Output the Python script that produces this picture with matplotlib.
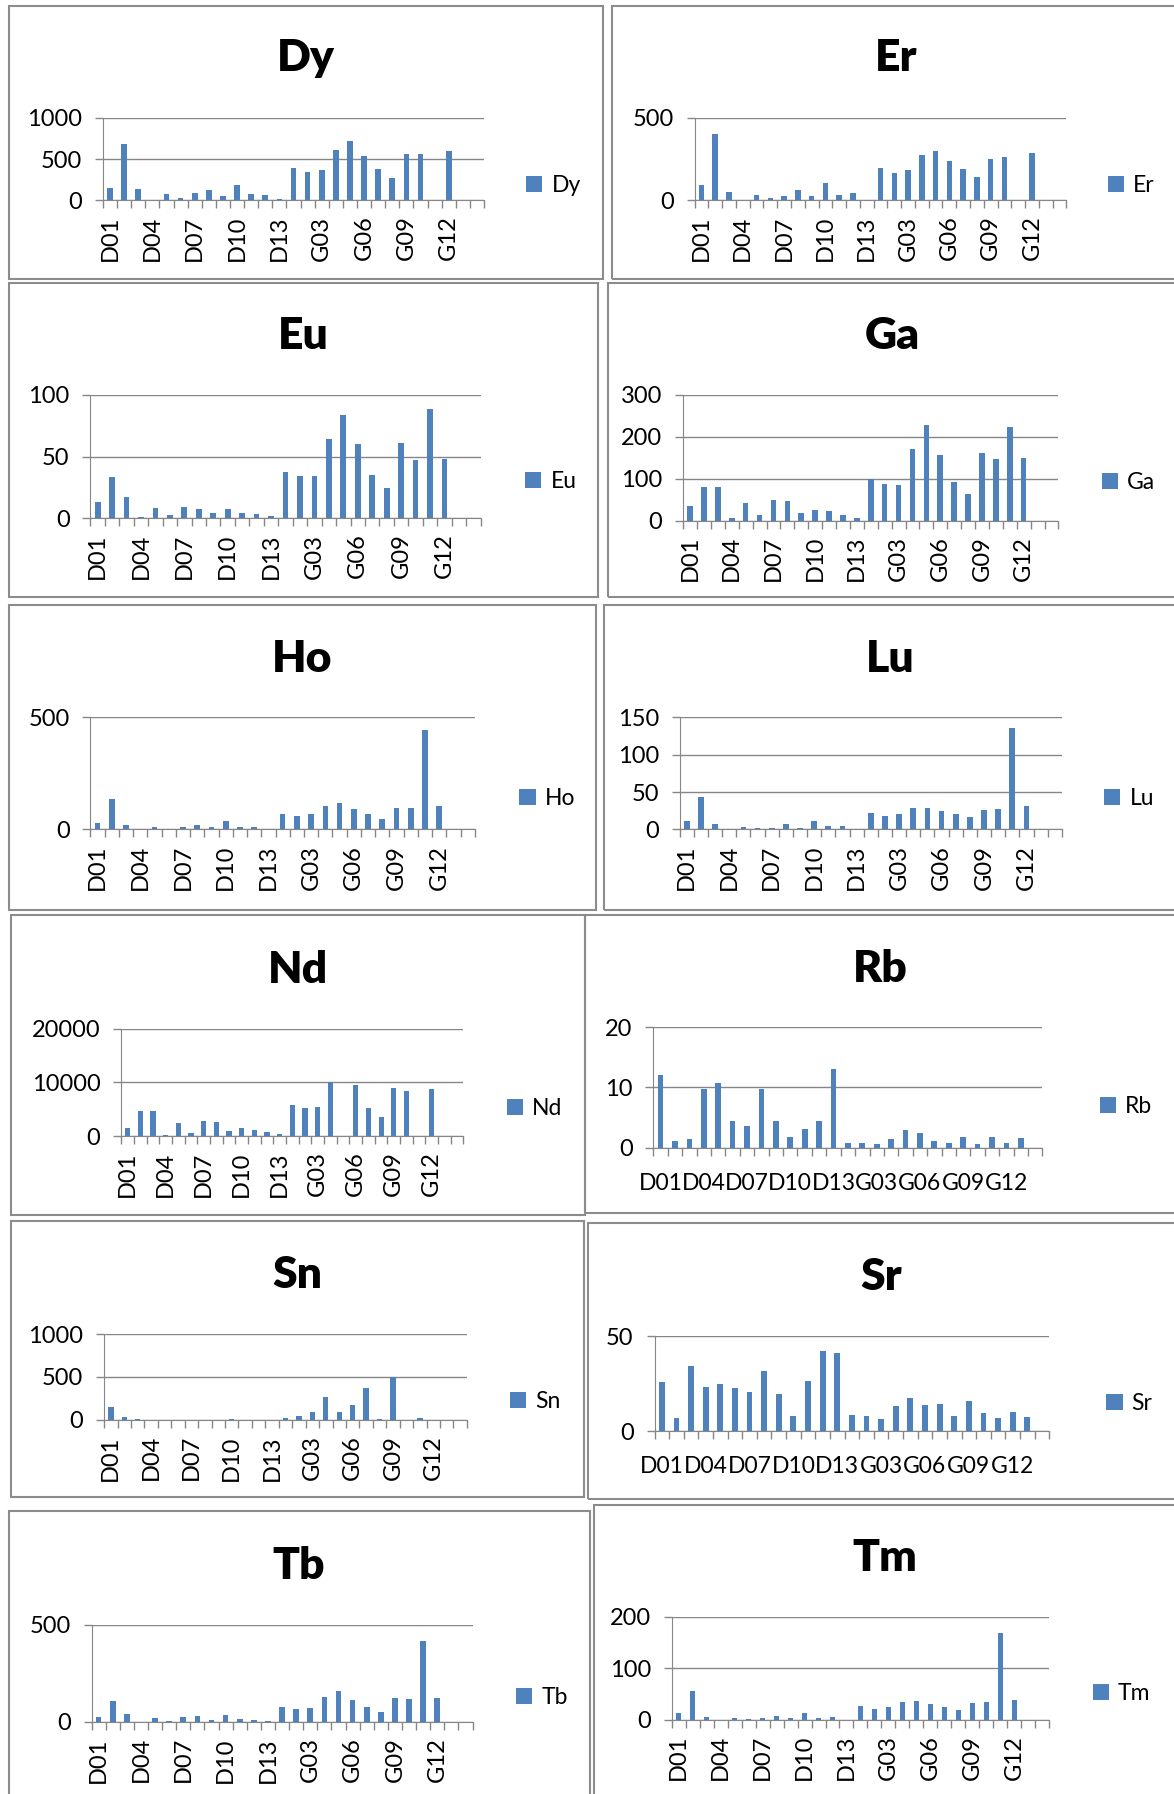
import matplotlib
matplotlib.use('Agg')
import matplotlib.pyplot as plt
from matplotlib.patches import Rectangle
import numpy as np

plt.rcParams['font.family'] = ['Lato', 'DejaVu Sans']

samples = ['D01', 'D02', 'D03', 'D04', 'D05', 'D06', 'D07', 'D08', 'D09',
           'D10', 'D11', 'D12', 'D13',
           'G01', 'G02', 'G03', 'G04', 'G05', 'G06', 'G07', 'G08', 'G09',
           'G10', 'G11', 'G12', 'G13', 'G14']

dy = [153, 687, 133, 8, 76, 24, 88, 128, 56, 189, 76, 68, 12,
      394, 337, 369, 610, 719, 542, 382, 269, 562, 566, 0, 602, 0, 0]
er = [92, 402, 50, 4, 30, 12, 28, 60, 26, 102, 34, 42, 4,
      196, 164, 186, 272, 296, 240, 188, 140, 250, 260, 0, 288, 0, 0]
eu = [13.5, 33.7, 17, 1.3, 8.4, 2.4, 9.2, 7.8, 4, 7.5, 4.6, 3.2, 1.6,
      37.7, 34.2, 34.5, 63.9, 83.8, 59.8, 34.8, 24.8, 60.6, 46.9, 88.1, 48, 0, 0]
ga = [34, 80, 79, 6, 43, 13, 50, 46, 18, 26, 23, 14, 6,
      98, 87, 86, 171, 227, 157, 92, 64, 161, 147, 222, 149, 0, 0]
ho = [30, 137, 18, 1, 9, 3, 9, 21, 9, 36, 12, 13, 1,
      70, 59, 67, 104, 117, 92, 67, 49, 95, 98, 445, 105, 0, 0]
lu = [11, 44, 7, 1, 3.5, 2, 2.5, 7, 2.5, 11.5, 4.5, 4.5, 0.3,
      21.6, 17.6, 20.7, 28.7, 29.1, 25.1, 20.7, 16.8, 25.6, 27.8, 135.8, 31.3, 1, 0]
nd = [1540, 4630, 4690, 120, 2470, 617, 2840, 2590, 990, 1540, 1170, 800, 370,
      5860, 5180, 5430, 10000, 0, 9440, 5180, 3580, 9010, 8330, 0, 8700, 0, 0]
rb = [12.0, 1.06, 1.39, 9.67, 10.7, 4.44, 3.56, 9.67, 4.44, 1.83, 3.11, 4.44, 13.0,
      0.83, 0.78, 0.67, 1.5, 3.0, 2.44, 1.06, 0.83, 1.72, 0.67, 1.72, 0.78, 1.67, 0]
sn = [148, 31, 8, 2, 0, 3, 0, 3, 0, 12, 0, 0, 0,
      23, 47, 86, 268, 93, 171, 373, 8, 494, 0, 19, 0, 0, 0]
sr = [26.0, 7.1, 34.3, 23.5, 24.7, 22.8, 20.7, 32.0, 19.8, 8.0, 26.5, 42.4, 41.2,
      8.5, 8.3, 6.7, 13.3, 17.3, 13.8, 14.5, 7.8, 15.9, 9.5, 7.2, 10.4, 7.6, 0]
tb = [26, 108, 39, 0, 19, 5, 26, 29, 12, 34, 15, 12, 3,
      77, 68, 72, 128, 159, 115, 75, 50, 122, 116, 418, 123, 0, 0]
tm = [12, 56, 6, 0, 3, 0.5, 2.6, 7.7, 2.6, 13.5, 3.9, 5.8, 0,
      25.7, 20.6, 25, 34.7, 36.7, 30.2, 25, 19.3, 31.5, 34, 168, 37.3, 0, 0]

BLUE = '#4F81BD'
GREY = '#868686'
W, H = 1026.0, 1568.0   # layout measured on the reduced picture

def fx(x):
    return x / W

def fy(y):
    return 1 - y / H

# name, values, y ticks, box (x0,y0,x1,y1), plot (L,R,T,B), title xy, legend xy, rotated labels
panels = [
    ('Dy', dy, [0, 500, 1000], (8, 5, 527, 244), (90, 423, 103, 175), (267, 51), (460, 162), True),
    ('Er', er, [0, 500], (535, 5, 1030, 244), (607, 932, 103, 175), (783, 51), (968, 162), True),
    ('Eu', eu, [0, 50, 100], (8, 247, 523, 522), (79, 420, 345, 453), (265, 294), (459, 421), True),
    ('Ga', ga, [0, 100, 200, 300], (531, 247, 1030, 522), (597, 925, 345, 455), (780, 294), (963, 422), True),
    ('Ho', ho, [0, 500], (8, 529, 521, 795), (79, 415, 627, 725), (264, 576), (454, 698), True),
    ('Lu', lu, [0, 50, 100, 150], (528, 529, 1030, 795), (594, 928, 627, 725), (778, 576), (965, 698), True),
    ('Nd', nd, [0, 10000, 20000], (10, 800, 511, 1062), (106, 405, 899, 993), (260, 848), (443, 969), True),
    ('Rb', rb, [0, 10, 20], (511, 800, 1030, 1060), (571, 911, 898, 1003), (769, 847), (961, 967), False),
    ('Sn', sn, [0, 500, 1000], (10, 1067, 510, 1308), (91, 408, 1166, 1241), (260, 1114), (446, 1225), True),
    ('Sr', sr, [0, 50], (514, 1069, 1030, 1310), (572, 917, 1168, 1251), (770, 1116), (967, 1227), False),
    ('Tb', tb, [0, 500], (8, 1321, 516, 1575), (80, 413, 1420, 1505), (261, 1369), (451, 1484), True),
    ('Tm', tm, [0, 100, 200], (519, 1315, 1030, 1575), (587, 917, 1413, 1503), (773, 1362), (955, 1480), True),
]

fig = plt.figure(figsize=(11.74, 17.94), dpi=100)

for name, vals, yt, box, area, tpos, lpos, rot in panels:
    x0, y0, x1, y1 = box
    fig.patches.append(Rectangle((fx(x0), fy(y1)), fx(x1) - fx(x0), fy(y0) - fy(y1),
                                 transform=fig.transFigure, fill=False,
                                 ec='#8c8c8c', lw=1.5))
    L, R, T, B = area
    ax = fig.add_axes([fx(L), fy(B), fx(R) - fx(L), fy(T) - fy(B)])
    x = np.arange(len(samples))
    ax.bar(x, vals, width=0.4, color=BLUE, label=name, zorder=3)
    ax.set_xlim(-0.5, len(samples) - 0.5)
    ax.set_ylim(yt[0], yt[-1])
    ax.set_yticks(yt)
    ax.set_xticks(x[::3])
    if rot:
        ax.set_xticklabels(samples[::3], rotation=90, fontsize=17)
        ax.tick_params(axis='x', which='major', length=0, pad=11)
    else:
        ax.set_xticklabels(samples[::3], fontsize=16.5)
        ax.tick_params(axis='x', which='major', length=0, pad=18)
    ax.set_xticks(np.arange(len(samples) + 1) - 0.5, minor=True)
    ax.tick_params(axis='x', which='minor', length=6, color=GREY, width=1)
    ax.tick_params(axis='y', length=6, color=GREY, width=1, pad=9, labelsize=17)
    ax.grid(axis='y', color=GREY, lw=1)
    ax.set_axisbelow(True)
    for s in ['top', 'right']:
        ax.spines[s].set_visible(False)
    for s in ['left', 'bottom']:
        ax.spines[s].set_color(GREY)
    fig.text(fx(tpos[0]), fy(tpos[1]), name, ha='center', va='center',
             fontsize=32, fontweight='heavy')
    ax.legend(loc='center left', bbox_to_anchor=(fx(lpos[0]), fy(lpos[1])),
              bbox_transform=fig.transFigure, frameon=False, fontsize=16.5,
              handlelength=0.7, handleheight=0.7, handletextpad=0.4,
              borderpad=0, borderaxespad=0)

fig.savefig('out.png', dpi=100)
